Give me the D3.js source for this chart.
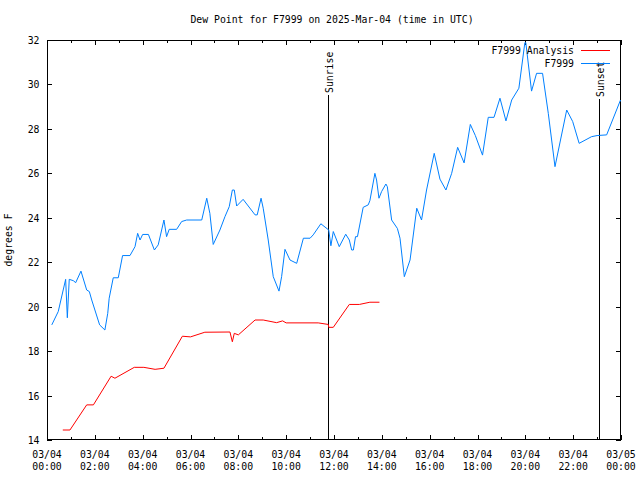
<!DOCTYPE html>
<html><head><meta charset="utf-8">
<script src="https://cdn.jsdelivr.net/npm/d3@7"></script>
<style>
body{margin:0;background:#fff;}
text{font-family:"DejaVu Sans Mono","Liberation Mono",monospace;font-size:9.8px;fill:#000;}
</style></head>
<body><svg id="c" width="640" height="480"></svg>
<script>
const title = "Dew Point for F7999 on 2025-Mar-04 (time in UTC)";
const yLabel = "degrees F";
const yTicks = [14,16,18,20,22,24,26,28,30,32];
const xTickHours = [0,2,4,6,8,10,12,14,16,18,20,22,24];
const xTickDates = ["03/04","03/04","03/04","03/04","03/04","03/04","03/04","03/04","03/04","03/04","03/04","03/04","03/05"];
const xTickTimes = ["00:00","02:00","04:00","06:00","08:00","10:00","12:00","14:00","16:00","18:00","20:00","22:00","00:00"];
const seriesNames = ["F7999 Analysis","F7999"];
const seriesColors = ["#ff0000","#0080ff"];

// hours since 2025-03-04 00:00 UTC
const analysisHours = [0.66,0.96,1.66,1.94,2.68,2.84,3.65,4.05,4.52,4.89,5.66,6.00,6.60,7.65,7.75,7.83,8.00,8.70,9.04,9.60,9.85,10.00,11.34,11.76,11.78,11.97,12.64,13.06,13.50,13.90];
const analysisValues = [14.45,14.45,15.58,15.58,16.87,16.78,17.27,17.27,17.18,17.23,18.67,18.64,18.85,18.86,18.42,18.80,18.73,19.40,19.40,19.28,19.36,19.27,19.27,19.20,19.07,19.07,20.10,20.10,20.20,20.20];

const obsHours = [0.20,0.47,0.78,0.85,0.93,1.10,1.20,1.42,1.66,1.77,1.87,2.20,2.42,2.54,2.60,2.77,2.98,3.16,3.47,3.68,3.79,3.89,4.00,4.24,4.49,4.65,4.89,5.00,5.11,5.42,5.63,5.84,6.47,6.68,6.81,6.95,7.23,7.44,7.62,7.75,7.83,7.93,8.20,8.70,8.79,8.95,9.04,9.25,9.46,9.70,9.81,9.95,10.16,10.44,10.72,11.00,11.13,11.45,11.78,11.87,11.97,12.22,12.49,12.64,12.74,12.81,12.90,12.98,13.22,13.43,13.50,13.71,13.78,13.88,13.99,14.17,14.23,14.41,14.65,14.76,14.94,15.18,15.46,15.66,15.87,16.19,16.43,16.68,16.92,17.17,17.44,17.70,17.91,18.21,18.45,18.69,18.94,19.19,19.43,19.73,19.98,20.02,20.26,20.47,20.72,20.96,21.24,21.73,21.98,22.25,22.77,23.00,23.40,23.98];
const obsValues = [19.18,19.78,21.23,19.50,21.23,21.17,21.08,21.60,20.75,20.68,20.30,19.18,18.95,19.70,20.38,21.30,21.30,22.30,22.30,22.70,23.30,23.00,23.25,23.25,22.55,22.78,23.90,23.15,23.48,23.48,23.83,23.90,23.90,24.88,24.20,22.80,23.45,24.05,24.50,25.25,25.25,24.53,24.83,24.13,24.13,24.88,24.43,23.00,21.35,20.70,21.35,22.58,22.10,21.95,23.08,23.08,23.23,23.73,23.45,22.74,23.38,22.70,23.26,23.00,22.55,22.55,23.15,23.15,24.47,24.58,24.77,26.00,25.70,24.88,25.18,25.52,25.40,23.90,23.52,23.08,21.35,22.10,24.43,23.90,25.25,26.90,25.74,25.25,26.00,27.17,26.47,28.20,27.70,26.82,28.52,28.52,29.38,28.36,29.30,29.83,31.88,31.88,29.70,30.50,30.50,28.70,26.30,28.85,28.33,27.35,27.65,27.70,27.73,29.30];

const sunEventNames = ["Sunrise","Sunset"];
const sunEventHours = [11.75,23.08];

const svg = d3.select("#c");
const L=47, R=621, T=40, B=440;
const x = d3.scaleLinear().domain([0,24]).range([L,R]);
const y = d3.scaleLinear().domain([14,32]).range([B,T]);

// frame
svg.append("rect").attr("x",L+0.5).attr("y",T+0.5).attr("width",R-L-1).attr("height",B-T-1)
  .attr("fill","none").attr("stroke","#000").attr("stroke-width",1).attr("shape-rendering","crispEdges");

const tk = svg.append("g").attr("stroke","#000").attr("stroke-width",1).attr("shape-rendering","crispEdges");
// x ticks, major every 2h, minor every hour
d3.range(0,25).forEach(h=>{
  const len = (h%2===0)?5:3;
  const px = Math.round(x(h))+0.5;
  tk.append("line").attr("x1",px).attr("x2",px).attr("y1",B).attr("y2",B-len);
  tk.append("line").attr("x1",px).attr("x2",px).attr("y1",T).attr("y2",T+len);
});
yTicks.forEach(v=>{
  const py = Math.round(y(v))+0.5;
  tk.append("line").attr("x1",L).attr("x2",L+5).attr("y1",py).attr("y2",py);
  tk.append("line").attr("x1",R).attr("x2",R-5).attr("y1",py).attr("y2",py);
});

// tick labels
yTicks.forEach(v=>{
  svg.append("text").attr("x",39.5).attr("y",y(v)+4).attr("text-anchor","end").text(v);
});
xTickHours.forEach((h,i)=>{
  svg.append("text").attr("x",x(h)).attr("y",458).attr("text-anchor","middle").text(xTickDates[i]);
  svg.append("text").attr("x",x(h)).attr("y",470).attr("text-anchor","middle").text(xTickTimes[i]);
});

// title and axis label
svg.append("text").attr("x",332).attr("y",23).attr("text-anchor","middle").text(title);
svg.append("text").attr("transform","translate(12,240) rotate(-90)").attr("text-anchor","middle").text(yLabel);

// sunrise / sunset
const sunTop = [95,99];
sunEventHours.forEach((h,i)=>{
  const px = Math.round(x(h))+0.5;
  svg.append("line").attr("x1",px).attr("x2",px).attr("y1",sunTop[i]).attr("y2",B)
    .attr("stroke","#000").attr("stroke-width",1).attr("shape-rendering","crispEdges");
  svg.append("text").attr("transform",`translate(${px+4},${sunTop[i]-2}) rotate(-90)`)
    .attr("text-anchor","start").text(sunEventNames[i]);
});

// series
const line = d3.line().x(d=>x(d[0])).y(d=>y(d[1]));
const analysis = analysisHours.map((h,i)=>[h,analysisValues[i]]);
const obs = obsHours.map((h,i)=>[h,obsValues[i]]);
svg.append("path").datum(analysis).attr("d",line).attr("fill","none").attr("stroke",seriesColors[0]).attr("stroke-width",1);
svg.append("path").datum(obs).attr("d",line).attr("fill","none").attr("stroke",seriesColors[1]).attr("stroke-width",1);

// legend
seriesNames.forEach((n,i)=>{
  const ly = 50 + i*13;
  svg.append("text").attr("x",574).attr("y",ly+4).attr("text-anchor","end").text(n);
  svg.append("line").attr("x1",581).attr("x2",610).attr("y1",ly+0.5).attr("y2",ly+0.5)
    .attr("stroke",seriesColors[i]).attr("stroke-width",1).attr("shape-rendering","crispEdges");
});
</script></body></html>
